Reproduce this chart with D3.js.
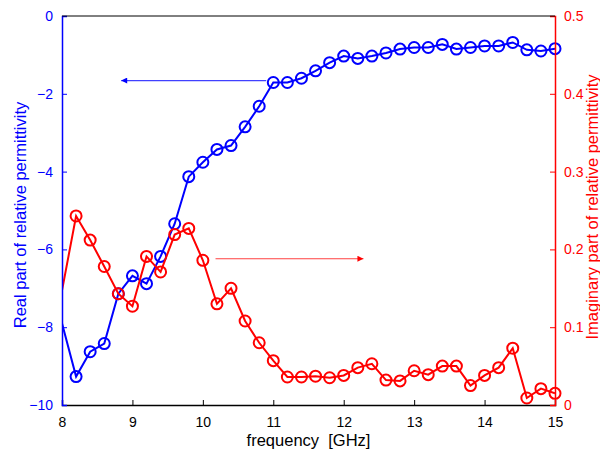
<!DOCTYPE html>
<html>
<head>
<meta charset="utf-8">
<script src="https://cdn.jsdelivr.net/npm/d3@7.9.0/dist/d3.min.js"></script>
<style>
  body { margin: 0; background: #fff; }
  svg text { font-family: "Liberation Sans", Arial, sans-serif; }
</style>
</head>
<body>
<svg width="600" height="453"></svg>
<script>
// frequency points (GHz); first one lies just left of the axis and is clipped
const freq = [7.8, 8.0, 8.2, 8.4, 8.6, 8.8, 9.0, 9.2, 9.4, 9.6, 9.8, 10.0, 10.2, 10.4, 10.6, 10.8,
  11.0, 11.2, 11.4, 11.6, 11.8, 12.0, 12.2, 12.4, 12.6, 12.8, 13.0, 13.2, 13.4, 13.6, 13.8,
  14.0, 14.2, 14.4, 14.6, 14.8, 15.0];

// real part (left axis)
const realPart = [-6.55, -7.9, -9.27, -8.63, -8.42, -7.14, -6.68, -6.88, -6.18, -5.34, -4.13,
  -3.76, -3.43, -3.33, -2.85, -2.32, -1.71, -1.71, -1.60, -1.41, -1.20, -1.03, -1.09, -1.03,
  -0.95, -0.85, -0.81, -0.81, -0.73, -0.85, -0.81, -0.77, -0.77, -0.68, -0.87, -0.90, -0.84];

// imaginary part (right axis)
const imagPart = [0.051, 0.147, 0.243, 0.212, 0.178, 0.143, 0.127, 0.191, 0.171, 0.219, 0.227,
  0.186, 0.130, 0.150, 0.108, 0.080, 0.057, 0.036, 0.036, 0.037, 0.035, 0.038, 0.048, 0.053,
  0.032, 0.031, 0.044, 0.039, 0.050, 0.050, 0.025, 0.038, 0.048, 0.073, 0.009, 0.021, 0.015];

const xTicks = [8, 9, 10, 11, 12, 13, 14, 15];
const leftTicks = [-10, -8, -6, -4, -2, 0];
const rightTicks = [0, 0.1, 0.2, 0.3, 0.4, 0.5];

const blue = '#0000ff';
const red = '#ff0000';

const margin = { left: 62, right: 45, top: 16, bottom: 48 };
const W = 600, H = 453;
const svg = d3.select('svg');

const x  = d3.scaleLinear().domain([8, 15]).range([margin.left, W - margin.right]);
const yL = d3.scaleLinear().domain([-10, 0]).range([H - margin.bottom, margin.top]);
const yR = d3.scaleLinear().domain([0, 0.5]).range([H - margin.bottom, margin.top]);

svg.append('clipPath').attr('id', 'plot')
  .append('rect')
  .attr('x', margin.left).attr('y', margin.top)
  .attr('width', x(15) - x(8)).attr('height', yL(-10) - yL(0));

// arrow heads
const defs = svg.append('defs');
[['headB', blue], ['headR', red]].forEach(([id, c]) => {
  defs.append('marker').attr('id', id)
    .attr('viewBox', '0 0 10 10').attr('refX', 10).attr('refY', 5)
    .attr('markerWidth', 10).attr('markerHeight', 6).attr('orient', 'auto')
    .attr('markerUnits', 'userSpaceOnUse')
    .append('path').attr('d', 'M0,0 L10,5 L0,10 Z').attr('fill', c);
});

// series: line clipped to the axes box, markers drawn in full
function drawSeries(vals, yScale, color) {
  const pts = freq.map((f, i) => [f, vals[i]]);
  svg.append('path')
    .attr('clip-path', 'url(#plot)')
    .attr('d', d3.line().x(d => x(d[0])).y(d => yScale(d[1]))(pts))
    .attr('fill', 'none').attr('stroke', color).attr('stroke-width', 2);
  svg.append('g').selectAll('circle').data(pts.filter(d => d[0] > 8)).enter().append('circle')
    .attr('cx', d => x(d[0])).attr('cy', d => yScale(d[1])).attr('r', 5.5)
    .attr('fill', 'none').attr('stroke', color).attr('stroke-width', 2);
}
drawSeries(realPart, yL, blue);
drawSeries(imagPart, yR, red);

// annotation arrows
svg.append('line')
  .attr('x1', x(10.9)).attr('x2', x(8.84))
  .attr('y1', yL(-1.66)).attr('y2', yL(-1.66))
  .attr('stroke', '#4040ff').attr('stroke-width', 1.2)
  .attr('marker-end', 'url(#headB)');
svg.append('line')
  .attr('x1', x(10.18)).attr('x2', x(12.28))
  .attr('y1', yR(0.188)).attr('y2', yR(0.188))
  .attr('stroke', '#ff4040').attr('stroke-width', 1.2)
  .attr('marker-end', 'url(#headR)');

// axes
const tickLen = 5;
const bottom = svg.append('g').attr('transform', `translate(0,${yL(-10)})`)
  .call(d3.axisBottom(x).tickValues(xTicks).tickSize(-tickLen).tickPadding(12).tickFormat(d3.format('d')));
bottom.select('.domain').attr('stroke', '#000').attr('stroke-width', 1.5);
bottom.selectAll('text').attr('font-size', 14).attr('fill', '#000');

const left = svg.append('g').attr('transform', `translate(${margin.left},0)`)
  .call(d3.axisLeft(yL).tickValues(leftTicks).tickSize(-tickLen).tickPadding(9).tickFormat(d3.format('d')));
left.select('.domain').attr('stroke', blue).attr('stroke-width', 1.5);
left.selectAll('.tick line').attr('stroke', blue);
left.selectAll('text').attr('font-size', 14).attr('fill', blue);

const right = svg.append('g').attr('transform', `translate(${x(15)},0)`)
  .call(d3.axisRight(yR).tickValues(rightTicks).tickSize(-tickLen).tickPadding(9).tickFormat(d => d === 0 ? '0' : d3.format('.1f')(d)));
right.select('.domain').attr('stroke', red).attr('stroke-width', 1.5);
right.selectAll('.tick line').attr('stroke', red);
right.selectAll('text').attr('font-size', 14).attr('fill', red);

// top border
svg.append('line')
  .attr('x1', x(8)).attr('x2', x(15)).attr('y1', yL(0)).attr('y2', yL(0))
  .attr('stroke', '#000').attr('stroke-width', 1);

// axis titles
svg.append('text').attr('x', (x(8) + x(15)) / 2).attr('y', 446)
  .attr('text-anchor', 'middle').attr('font-size', 16.5)
  .style('white-space', 'pre').text('frequency  [GHz]');
svg.append('text')
  .attr('transform', `translate(26,215) rotate(-90)`)
  .attr('text-anchor', 'middle').attr('font-size', 16.5).attr('fill', blue)
  .text('Real part of relative permittivity');
svg.append('text')
  .attr('transform', `translate(598,207) rotate(-90)`)
  .attr('text-anchor', 'middle').attr('font-size', 16.5).attr('fill', red)
  .text('Imaginary part of relative permittivity');
</script>
</body>
</html>
